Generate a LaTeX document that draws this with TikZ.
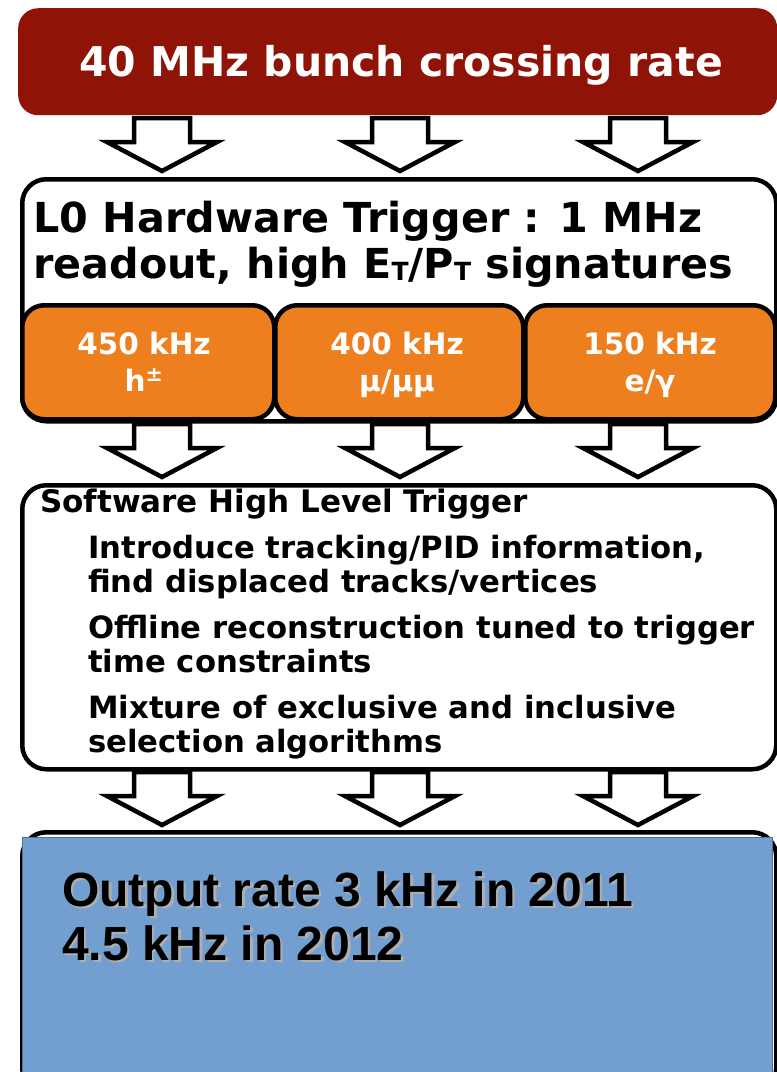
\documentclass[tikz,border=0pt]{standalone}
\usepackage{fontspec}
\setmainfont{DejaVu Sans}
\newfontfamily\outfont{Liberation Sans}
\definecolor{lhcred}{RGB}{143,19,6}
\definecolor{lhcorange}{RGB}{238,127,30}
\definecolor{lhcblue}{RGB}{114,159,207}
\definecolor{shadowgray}{RGB}{175,175,175}
\tikzset{
  stagebox/.style={draw=black, line width=4.5pt, fill=white, rounded corners=24pt, inner sep=0pt, anchor=north west},
  ratebox/.style={draw=black, line width=4.5pt, fill=lhcorange, rounded corners=22pt, inner sep=0pt, anchor=north west},
  redbox/.style={fill=lhcred, rounded corners=20pt, inner sep=0pt, anchor=north west},
  blockarrow/.style={draw=black, fill=white, line width=4.5pt, line join=miter},
  ratetext/.style={text=white, font=\fontsize{29.5}{36}\selectfont\bfseries, inner sep=0pt, anchor=base},
  titletext/.style={font=\fontsize{41.3}{46}\selectfont\bfseries, inner sep=0pt, anchor=base west},
  itemtext/.style={font=\fontsize{30.7}{34}\selectfont\bfseries, inner sep=0pt, anchor=base west},
  outtext/.style={font=\outfont\fontsize{48}{54}\selectfont\bfseries, inner sep=0pt, anchor=base west},
}
\newcommand\blockarr[2]{%
  \draw[blockarrow] (#1-28,#2) -- (#1+28,#2) -- (#1+28,#2+24) -- (#1+55,#2+24)
    -- (#1,#2+53) -- (#1-55,#2+24) -- (#1-28,#2+24) -- cycle;}
\newcommand\subT{\raisebox{-2pt}{\fontsize{25}{25}\selectfont T}}
\newcommand\shadowed[1]{\makebox[0pt][l]{\hspace{2.5pt}\raisebox{-2.5pt}{\textcolor{shadowgray}{#1}}}#1}
\begin{document}
\begin{tikzpicture}[x=1pt,y=-1pt]
\useasboundingbox (0,0) rectangle (777,1072);
% top box
\node[redbox, minimum width=759pt, minimum height=107pt] (red) at (18,8) {};
\node[text=white, font=\fontsize{41}{41}\selectfont\bfseries, inner sep=0pt, anchor=base] (redtxt) at (401,76) {40 MHz bunch crossing rate};
% arrows row 1
\blockarr{162}{118}
\blockarr{400}{118}
\blockarr{638}{118}
% L0 box
\node[stagebox, minimum width=754pt, minimum height=242pt] (lzero) at (20,177) {};
\node[titletext] (lzeroA) at (33,232) {L0 Hardware Trigger : 1 MHz};
\node[titletext] (lzeroB) at (33,278) {readout, high E\subT/P\subT{} signatures};
\node[ratebox, minimum width=252pt, minimum height=114pt] (hadron) at (20,303) {};
\node[ratebox, minimum width=248pt, minimum height=114pt] (muon) at (273,303) {};
\node[ratebox, minimum width=250pt, minimum height=114pt] (elec) at (523,303) {};
\node[ratetext] (hadA) at (144,354) {450 kHz};
\node[ratetext] (hadB) at (144,391) {h\textsuperscript{±}};
\node[ratetext] (muA) at (397,354) {400 kHz};
\node[ratetext] (muB) at (397,391) {μ/μμ};
\node[ratetext] (elA) at (650,354) {150 kHz};
\node[ratetext] (elB) at (650,391) {e/γ};
% arrows row 2
\blockarr{162}{424}
\blockarr{400}{424}
\blockarr{638}{424}
% HLT box
\node[stagebox, minimum width=754pt, minimum height=284pt] (hlt) at (20,483) {};
\node[font=\fontsize{31}{34}\selectfont\bfseries, inner sep=0pt, anchor=base west] (hlttitle) at (40,512) {Software High Level Trigger};
\node[itemtext] (itemA1) at (88,558) {Introduce tracking/PID information,};
\node[itemtext] (itemA2) at (88,592) {find displaced tracks/vertices};
\node[itemtext] (itemB1) at (88,638) {Offline reconstruction tuned to trigger};
\node[itemtext] (itemB2) at (88,672) {time constraints};
\node[itemtext] (itemC1) at (88,718) {Mixture of exclusive and inclusive};
\node[itemtext] (itemC2) at (88,752) {selection algorithms};
% arrows row 3
\blockarr{162}{772}
\blockarr{400}{772}
\blockarr{638}{772}
% output box
\node[stagebox, minimum width=754pt, minimum height=260pt] (outframe) at (20,830) {};
\node[fill=lhcblue, draw=lhcblue!70!black, line width=0.8pt, inner sep=0pt, anchor=north west, minimum width=750pt, minimum height=240pt] (output) at (22,837) {};
\node[outtext] (outA) at (62,906) {\shadowed{Output rate 3 kHz in 2011}};
\node[outtext] (outB) at (62,960) {\shadowed{4.5 kHz in 2012}};
\end{tikzpicture}
\end{document}
